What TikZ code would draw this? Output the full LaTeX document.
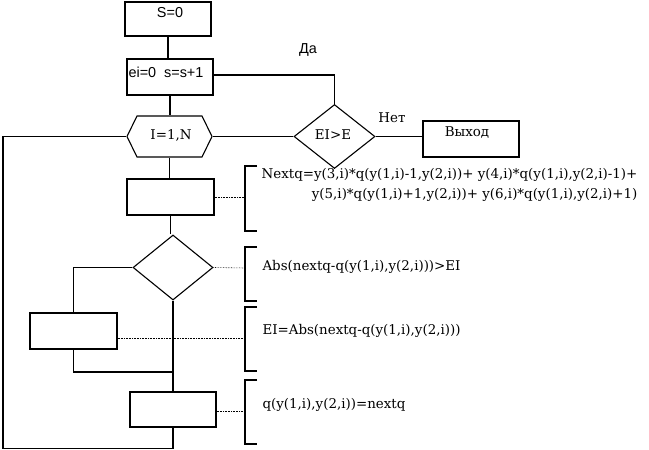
\documentclass[tikz,border=0pt]{standalone}
\usepackage{fontspec}
\setmainfont{DejaVu Serif}
\newfontfamily\arialish{Liberation Sans}
\usetikzlibrary{shapes.geometric,shapes.symbols}
\begin{document}
\begin{tikzpicture}[x=1pt,y=-1pt,line width=1.1pt,
  every node/.style={font=\fontsize{13.4}{20}\selectfont},
  sanslbl/.style={inner sep=0pt,font=\fontsize{14.4}{18}\selectfont\arialish},
  blk/.style={draw,rectangle,inner sep=0pt},
  dia/.style={draw,diamond,inner sep=0pt,minimum width=81pt,minimum height=64pt},
  hexa/.style={draw,signal,signal to=east and west,signal pointer angle=128,inner sep=0pt,minimum width=85pt,minimum height=41pt},
  lbl/.style={inner sep=0pt},
  note/.style={inner sep=0pt,anchor=west},
  dot/.style={densely dotted,line width=0.6pt},
  brk/.style={line width=1.2pt}]
\useasboundingbox[fill=white] (0,0) rectangle (649,450);

% blocks
\node[blk,minimum width=86pt,minimum height=34pt] (s0) at (168,19) {};
\node[sanslbl] (ts0) at (170,13) {S=0};
\node[blk,minimum width=86pt,minimum height=36pt] (ei) at (170,77) {};
\node[sanslbl,anchor=west] (tei) at (128,72) {ei=0\ \ s=s+1};
\node[hexa] (hex) at (169.5,136.5) {};
\node[lbl] (thex) at (171,135) {I=1,N};
\node[dia] (d1) at (334.5,136.5) {};
\node[lbl] (td1) at (333,135) {EI>E};
\node[blk,minimum width=96pt,minimum height=36pt] (ex) at (471,139) {};
\node[lbl] (tex) at (467,133) {Выход};
\node[sanslbl] (da) at (308,50) {Да};
\node[lbl] (net) at (392,118) {Нет};
\node[blk,minimum width=87pt,minimum height=36pt] (b1) at (170.5,197) {};
\node[dia,minimum width=80pt,minimum height=65pt] (d2) at (173,267.5) {};
\node[blk,minimum width=87pt,minimum height=36pt] (b2) at (73.5,331) {};
\node[blk,minimum width=86pt,minimum height=35pt] (b3) at (173,409.5) {};

\coordinate (j1) at (173,372);
\coordinate (lp) at (3,448.5);

% connectors
\draw (s0.south) -- (s0.south |- ei.north);
\draw ([yshift=2pt]ei.east) -| (d1.north);
\draw (ei.south) -- (ei.south |- hex.north);
\draw (hex.east) -- (d1.west);
\draw (d1.east) -- (d1.east -| ex.west);
\draw (hex.south) -- (hex.south |- b1.north);
\draw (b1.south) -- (b1.south |- d2.north);
\draw (d2.west) -| (b2.north);
\draw (b2.south) |- (j1);
\draw (d2.south) -- (b3.north);
\draw (b3.south) |- (lp) |- (hex.west);

% brackets
\draw[brk] (257,166) -- (245,166) -- (245,231) -- (257,231);
\draw[brk] (257,247) -- (245,247) -- (245,301) -- (257,301);
\draw[brk] (257,307) -- (245,307) -- (245,371) -- (257,371);
\draw[brk] (257,380) -- (245,380) -- (245,444) -- (257,444);

\coordinate (c1) at (245,197);
\coordinate (c2) at (245,268);
\coordinate (c3) at (245,338);
\coordinate (c4) at (245,411);
\draw[dot] (b1.east) -- (c1);
\draw[dot] (d2.east) -- (c2);
\draw[dot] ([yshift=-7pt]b2.east) -- (c3);
\draw[dot] ([yshift=-1.5pt]b3.east) -- (c4);

% notes
\node[inner sep=0pt,align=right,anchor=east] (n1) at (638,185) {Nextq=y(3,i)*q(y(1,i)-1,y(2,i))+ y(4,i)*q(y(1,i),y(2,i)-1)+\\y(5,i)*q(y(1,i)+1,y(2,i))+ y(6,i)*q(y(1,i),y(2,i)+1)};
\node[note] (n2) at (262,267) {Abs(nextq-q(y(1,i),y(2,i)))>EI};
\node[note] (n3) at (262,331) {EI=Abs(nextq-q(y(1,i),y(2,i)))};
\node[note] (n4) at (262,405) {q(y(1,i),y(2,i))=nextq};
\end{tikzpicture}
\end{document}
